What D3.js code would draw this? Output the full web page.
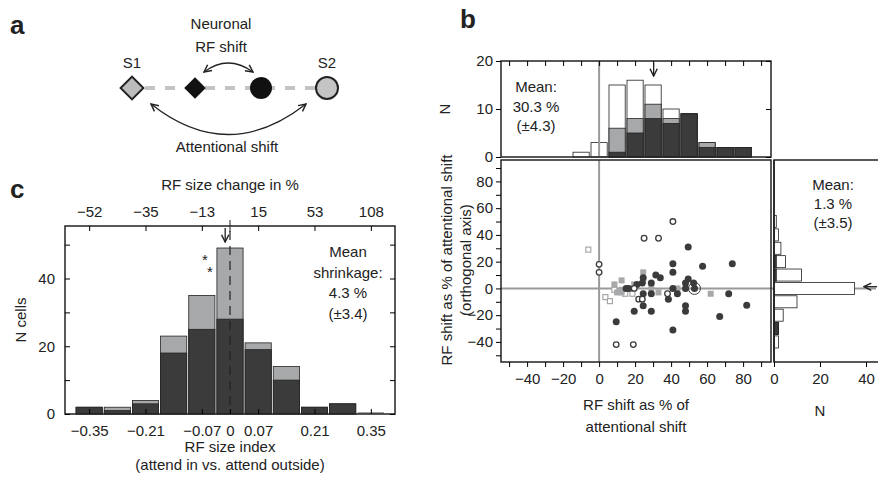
<!DOCTYPE html><html><head><meta charset="utf-8">
<script src="https://d3js.org/d3.v7.min.js"></script>
<style>body{margin:0;background:#fff}text{font-family:"Liberation Sans",Arial,sans-serif;fill:#222}</style></head><body>
<script>
// ---- data ----
const cBinK = [-5,-4,-3,-2,-1,0,1,2,3,4,5];
const cTotal = [2,2,4,23,35,49,21,14,2,3,0];
const cDark  = [2,1,3,18,25,28,19,10,2,3,0];
const cBottomTicks = [-0.35,-0.21,-0.07,0,0.07,0.21,0.35];
const cBottomLabels = ["-0.35","-0.21","-0.07","0","0.07","0.21","0.35"];
const cTopTicks = [-0.35,-0.21,-0.07,0.07,0.21,0.35];
const cTopLabels = ["-52","-35","-13","15","53","108"];
const bxBins = [-10,0,10,20,30,40,50,60,70,80];
const bxTotal = [1,3,15,16,15,10,9,3,2,2];
const bxGray  = [0,0,6,8,11,8,9,3,2,2];
const bxDark  = [0,0,1,5,8,7,9,2,2,2];
const byBins = [50,40,30,20,10,0,-10,-20,-30,-40];
const byTotal = [1,2,3,5,12,35,10,4,2,2];
const byDark  = [0,0,0,1,1,0,0,0,2,0];
const openCircles = [[41,50],[25,37.5],[33,37.5],[0,18],[0,12],[9.5,-42],[19,-42],[38,-4],[22,-8],[24,-8],[19.5,0]];
const openSquares = [[-6,29],[3.5,-6.5],[6,-9.5],[8.5,-1],[14.5,-4],[18.5,-4]];
const graySquares = [[24.5,12],[12.5,6],[8.5,3],[12.5,-1],[12.5,-3],[19.5,3],[24.5,6],[29,0],[33,-3],[43.5,0],[62,-4],[10,-3]];
const darkCircles = [[49.5,31],[41,18.5],[41,12],[57.5,16.5],[74,18.5],[31.5,10],[34,8],[24.5,8],[24,4],[21,3],[29,4],[49.5,7],[48,4],[52.5,4],[53,0],[41,0],[48,0],[29,-4],[24.5,-4],[24.5,-13],[43.5,-4],[38.5,-8],[48,-13],[48,-17],[19.5,-17],[29,-17],[9.5,-25],[41,-31],[67,-21],[72,-4],[82,-12.5],[15,0],[16.5,0]];

const DARK="#3b3b3b", GRAY="#a7a8aa", LG="#9a9a9a", FS=15;
const svg=d3.select("body").append("svg").attr("width",878).attr("height",479);
const T=(x,y,s,o={})=>{const t=svg.append("text").attr("x",x).attr("y",y).text(s).attr("font-size",o.fs||FS).attr("text-anchor",o.a||"middle");if(o.w)t.attr("font-weight",o.w);if(o.r)t.attr("transform",`rotate(-90,${x},${y})`);return t;};
const fmt=g=>{g.select(".domain").remove();g.selectAll("text").attr("font-size",FS);};
svg.append("defs").append("marker").attr("id","ah").attr("viewBox","0 0 10 10").attr("refX",9).attr("refY",5).attr("markerWidth",7).attr("markerHeight",7).attr("orient","auto-start-reverse")
 .append("path").attr("d","M1,1L9,5L1,9").attr("fill","none").attr("stroke","#222").attr("stroke-width",1.6);

T(10,34,"a",{fs:26,w:"bold",a:"start"});T(460,28,"b",{fs:26,w:"bold",a:"start"});T(10,198,"c",{fs:26,w:"bold",a:"start"});

// ---- panel a ----
svg.append("line").attr("x1",145).attr("x2",317).attr("y1",88).attr("y2",88).attr("stroke","#c4c4c4").attr("stroke-width",4).attr("stroke-dasharray","10,10");
svg.append("path").attr("d",d3.symbol(d3.symbolSquare,260)()).attr("transform","translate(132,88) rotate(45)").attr("fill","#bcbcbc").attr("stroke","#222").attr("stroke-width",2);
svg.append("path").attr("d",d3.symbol(d3.symbolSquare,230)()).attr("transform","translate(195,88) rotate(45)").attr("fill","#111");
svg.append("circle").attr("cx",261).attr("cy",88).attr("r",11).attr("fill","#111");
svg.append("circle").attr("cx",327).attr("cy",88).attr("r",11).attr("fill","#c4c4c4").attr("stroke","#222").attr("stroke-width",2);
T(132,68,"S1");T(327,68,"S2");T(221,29,"Neuronal");T(221,52,"RF shift");
svg.append("path").attr("d","M204,72 Q228,54 253,72").attr("fill","none").attr("stroke","#222").attr("stroke-width",1.3).attr("marker-start","url(#ah)").attr("marker-end","url(#ah)");
svg.append("path").attr("d","M151,104 Q228,165 306,104").attr("fill","none").attr("stroke","#222").attr("stroke-width",1.3).attr("marker-start","url(#ah)").attr("marker-end","url(#ah)");
T(227,152,"Attentional shift");

// ---- panel c ----
const cx=d3.scaleLinear().domain([-0.41,0.41]).range([65,395]);
const cy=d3.scaleLinear().domain([0,55.5]).range([414,226]);
const gc=svg.append("g");
const bw=0.07;
cBinK.forEach((k,i)=>{const x0=cx(k*bw-bw/2)+1,x1=cx(k*bw+bw/2)-1;
 if(cTotal[i]>0){gc.append("rect").attr("x",x0).attr("width",x1-x0).attr("y",cy(cTotal[i])).attr("height",cy(0)-cy(cTotal[i])).attr("fill",GRAY).attr("stroke","#222").attr("stroke-width",0.8);
 gc.append("rect").attr("x",x0).attr("width",x1-x0).attr("y",cy(cDark[i])).attr("height",cy(0)-cy(cDark[i])).attr("fill",DARK).attr("stroke","#222").attr("stroke-width",0.8);}
 else gc.append("line").attr("x1",x0).attr("x2",x1).attr("y1",cy(0.3)).attr("y2",cy(0.3)).attr("stroke","#555");});
gc.append("line").attr("x1",cx(0)).attr("x2",cx(0)).attr("y1",cy(54)).attr("y2",cy(0)).attr("stroke","#222").attr("stroke-width",1.2).attr("stroke-dasharray","9,6");
gc.append("rect").attr("x",65).attr("y",226).attr("width",330).attr("height",188).attr("fill","none").attr("stroke","#222").attr("stroke-width",1.5);
svg.append("g").attr("transform","translate(0,414)").call(d3.axisBottom(cx).tickValues(cBottomTicks).tickFormat((d,i)=>cBottomLabels[i].replace("-","−")).tickSize(-5).tickPadding(11)).call(fmt);
svg.append("g").attr("transform","translate(0,226)").call(d3.axisTop(cx).tickValues(cTopTicks).tickFormat((d,i)=>cTopLabels[i].replace("-","−")).tickSize(-5).tickPadding(9)).call(fmt);
svg.append("line").attr("x1",cx(0)).attr("x2",cx(0)).attr("y1",220).attr("y2",232).attr("stroke","#222");
svg.append("g").attr("transform","translate(65,0)").call(d3.axisLeft(cy).tickValues([0,10,20,30,40,50]).tickFormat(d=>d%20==0?d:"").tickSize(-5).tickPadding(10)).call(fmt);
svg.append("g").attr("transform","translate(395,0)").call(d3.axisRight(cy).tickValues([0,10,20,30,40,50]).tickFormat("").tickSize(-5)).call(g=>g.select(".domain").remove());
svg.append("line").attr("x1",cx(-0.012)).attr("x2",cx(-0.012)).attr("y1",228).attr("y2",242).attr("stroke","#222").attr("stroke-width",1.3).attr("marker-end","url(#ah)");
T(205,265,"*");T(210,277,"*");
T(230,190,"RF size change in %");
T(230,452,"RF size index");T(230,470,"(attend in vs. attend outside)");
T(26,320,"N cells",{r:true});
["Mean","shrinkage:","4.3 %","(±3.4)"].forEach((s,i)=>T(348,257+i*20.5,s));

// ---- panel b ----
const bx=d3.scaleLinear().domain([-54.5,95.5]).range([501,771]);
const by=d3.scaleLinear().domain([-55,96]).range([362,160]);
const hy=d3.scaleLinear().domain([0,20]).range([157,61]);
const hx=d3.scaleLinear().domain([0,40]).range([774,866]);
bxBins.forEach((c,i)=>{const x0=bx(c-4.5),x1=bx(c+4.5);
 [[bxTotal[i],"#fff"],[bxGray[i],GRAY],[bxDark[i],DARK]].forEach(([v,f])=>{if(v>0)svg.append("rect").attr("x",x0).attr("width",x1-x0).attr("y",hy(v)).attr("height",hy(0)-hy(v)).attr("fill",f).attr("stroke","#222").attr("stroke-width",0.8);});});
svg.append("line").attr("x1",bx(0)).attr("x2",bx(0)).attr("y1",61).attr("y2",157).attr("stroke",LG).attr("stroke-width",2);
svg.append("rect").attr("x",501).attr("y",61).attr("width",270).attr("height",96).attr("fill","none").attr("stroke","#222").attr("stroke-width",1.5);
svg.append("g").attr("transform","translate(0,61)").call(d3.axisTop(bx).tickValues(d3.range(-50,91,10)).tickFormat("").tickSize(-5)).call(g=>g.select(".domain").remove());
svg.append("g").attr("transform","translate(501,0)").call(d3.axisLeft(hy).tickValues([0,10,20]).tickSize(5).tickPadding(3)).call(fmt);
svg.append("g").attr("transform","translate(771,0)").call(d3.axisRight(hy).tickValues([0,10,20]).tickFormat("").tickSize(-5)).call(g=>g.select(".domain").remove());
svg.append("line").attr("x1",bx(30.3)).attr("x2",bx(30.3)).attr("y1",63).attr("y2",76).attr("stroke","#222").attr("stroke-width",1.3).attr("marker-end","url(#ah)");
T(450,109,"N",{r:true});
["Mean:","30.3 %","(±4.3)"].forEach((s,i)=>T(536,92+i*19.5,s));
svg.append("line").attr("x1",bx(0)).attr("x2",bx(0)).attr("y1",160).attr("y2",362).attr("stroke",LG).attr("stroke-width",2);
svg.append("line").attr("x1",501).attr("x2",876).attr("y1",by(0)).attr("y2",by(0)).attr("stroke",LG).attr("stroke-width",2);
openSquares.forEach(([x,y])=>svg.append("rect").attr("x",bx(x)-2.5).attr("y",by(y)-2.5).attr("width",5).attr("height",5).attr("fill","#fff").attr("stroke",GRAY).attr("stroke-width",1.2));
graySquares.forEach(([x,y])=>svg.append("rect").attr("x",bx(x)-3).attr("y",by(y)-3).attr("width",6).attr("height",6).attr("fill",GRAY));
darkCircles.forEach(([x,y])=>svg.append("circle").attr("cx",bx(x)).attr("cy",by(y)).attr("r",3.5).attr("fill",DARK));
svg.append("circle").attr("cx",bx(53)).attr("cy",by(0)).attr("r",6).attr("fill","none").attr("stroke",DARK).attr("stroke-width",1);
openCircles.forEach(([x,y])=>svg.append("circle").attr("cx",bx(x)).attr("cy",by(y)).attr("r",2.8).attr("fill","#fff").attr("stroke",DARK).attr("stroke-width",1.3));
svg.append("rect").attr("x",501).attr("y",160).attr("width",270).attr("height",202).attr("fill","none").attr("stroke","#222").attr("stroke-width",1.5);
svg.append("g").attr("transform","translate(0,362)").call(d3.axisBottom(bx).tickValues(d3.range(-50,91,10)).tickFormat(d=>d%20==0?String(d).replace("-","−"):"").tickSize(5).tickPadding(6)).call(fmt);
svg.append("g").attr("transform","translate(501,0)").call(d3.axisLeft(by).tickValues(d3.range(-50,91,10)).tickFormat(d=>d%20==0?String(d).replace("-","−"):"").tickSize(5).tickPadding(3)).call(fmt);
T(452,260,"RF shift as % of attentional shift",{r:true});T(471,260,"(orthogonal axis)",{r:true});
T(636,410,"RF shift as % of");T(636,432,"attentional shift");
byBins.forEach((c,i)=>{const y0=by(c+4.5),y1=by(c-4.5);
 [[byTotal[i],"#fff"],[byDark[i],DARK]].forEach(([v,f])=>{if(v>0)svg.append("rect").attr("x",hx(0)).attr("width",hx(v)-hx(0)).attr("y",y0).attr("height",y1-y0).attr("fill",f).attr("stroke","#222").attr("stroke-width",0.8);});});
svg.append("line").attr("x1",774).attr("x2",774).attr("y1",160).attr("y2",362).attr("stroke","#222").attr("stroke-width",1.5);
svg.append("rect").attr("x",774).attr("y",160).attr("width",120).attr("height",202).attr("fill","none").attr("stroke","#222").attr("stroke-width",1.5);
svg.append("g").attr("transform","translate(0,362)").call(d3.axisBottom(hx).tickValues([0,20,40]).tickSize(5).tickPadding(6)).call(fmt);
svg.append("line").attr("x1",877).attr("x2",864).attr("y1",by(1.3)).attr("y2",by(1.3)).attr("stroke","#222").attr("stroke-width",1.3).attr("marker-end","url(#ah)");
["Mean:","1.3 %","(±3.5)"].forEach((s,i)=>T(833,190+i*19,s));
T(820,416,"N");
</script></body></html>
